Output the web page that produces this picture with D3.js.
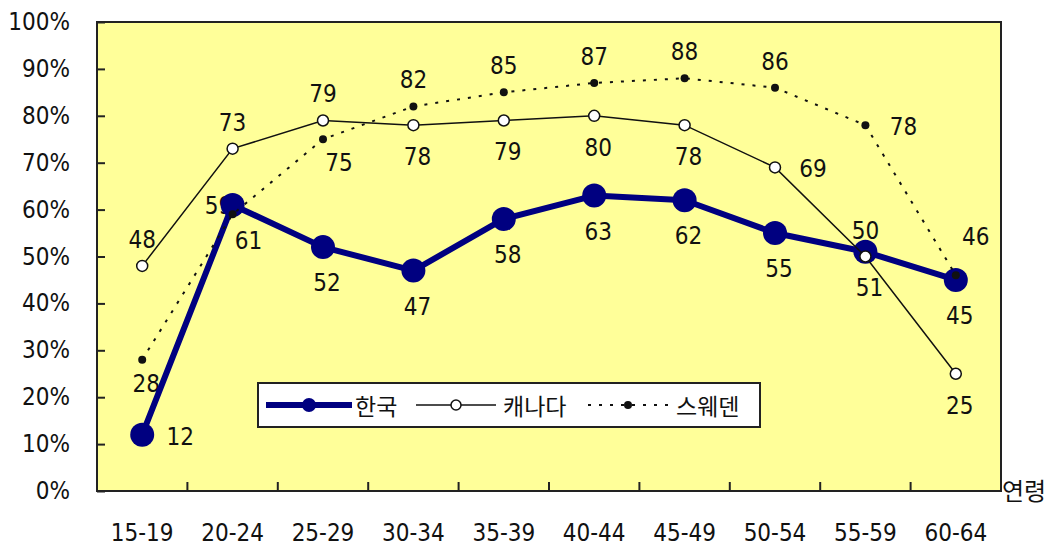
<!DOCTYPE html>
<html>
<head>
<meta charset="utf-8">
<script src="https://cdn.jsdelivr.net/npm/d3@7"></script>
<style>
  body { margin: 0; background: #fff; }
  text { font-family: "Liberation Sans Narrow", "DejaVu Sans Condensed", "Noto Sans CJK KR", sans-serif; fill: #111; }
  text.kr { font-family: "Noto Sans CJK KR", sans-serif; }
</style>
</head>
<body>
<div id="chart"></div>
<script>
const ageGroups = ['15-19', '20-24', '25-29', '30-34', '35-39', '40-44', '45-49', '50-54', '55-59', '60-64'];
const korea  = [12, 61, 52, 47, 58, 63, 62, 55, 51, 45];
const canada = [48, 73, 79, 78, 79, 80, 78, 69, 50, 25];
const sweden = [28, 59, 75, 82, 85, 87, 88, 86, 78, 46];
const yTicks = [0, 10, 20, 30, 40, 50, 60, 70, 80, 90, 100];
const seriesNames = ['한국', '캐나다', '스웨덴'];

// where each value label sits relative to its point
const koreaLabelPos  = ['right', 'belowRight', 'below', 'below', 'below', 'below', 'below', 'below', 'below', 'below'];
const canadaLabelPos = ['above', 'above', 'above', 'below', 'below', 'below', 'below', 'right', 'above', 'below'];
const swedenLabelPos = ['below', 'left', 'belowRight', 'above', 'above', 'above', 'above', 'above', 'right', 'aboveRight'];

const width = 1057, height = 546;
const plot = { left: 97, right: 1001, top: 22, bottom: 491 };
const fontSize = '24px';

const svg = d3.select('#chart').append('svg')
  .attr('width', width)
  .attr('height', height);

const x = d3.scaleBand().domain(ageGroups).range([plot.left, plot.right]);
const y = d3.scaleLinear().domain([0, 100]).range([plot.bottom, plot.top]);
const cx = (d) => x(d) + x.bandwidth() / 2;

// plot background
svg.append('rect')
  .attr('x', plot.left).attr('y', plot.top)
  .attr('width', plot.right - plot.left).attr('height', plot.bottom - plot.top)
  .attr('fill', '#ffff99')
  .attr('stroke', '#222')
  .attr('stroke-width', 2);

// y axis ticks (inward) and labels
const yAxis = svg.append('g').attr('transform', `translate(${plot.left},0)`)
  .call(d3.axisRight(y).tickValues(yTicks).tickSize(8).tickFormat(''));
yAxis.select('.domain').remove();
yAxis.selectAll('line').attr('stroke', '#222').attr('stroke-width', 2);

svg.append('g').selectAll('text')
  .data(yTicks)
  .join('text')
  .attr('x', 70)
  .attr('y', (d) => y(d))
  .attr('text-anchor', 'end')
  .attr('dominant-baseline', 'central')
  .style('font-size', fontSize)
  .text((d) => d + '%');

// x axis ticks at category boundaries, pointing up
const bounds = ageGroups.slice(1).map((d) => x(d));
svg.append('g').selectAll('line')
  .data(bounds)
  .join('line')
  .attr('x1', (d) => d).attr('x2', (d) => d)
  .attr('y1', plot.bottom).attr('y2', plot.bottom - 9)
  .attr('stroke', '#222').attr('stroke-width', 2);

svg.append('g').selectAll('text')
  .data(ageGroups)
  .join('text')
  .attr('x', (d) => cx(d))
  .attr('y', 541)
  .attr('text-anchor', 'middle')
  .style('font-size', fontSize)
  .text((d) => d);

svg.append('text')
  .attr('class', 'kr')
  .attr('x', 1002).attr('y', 489)
  .attr('dominant-baseline', 'central')
  .style('font-size', '24px')
  .text('연령');

const offsets = {
  above: [0, -26], below: [4, 36], right: [38, 2], left: [-14, -8],
  belowRight: [16, 36], aboveRight: [20, -38]
};

function drawLabels(values, positions, extraBelow) {
  svg.append('g').selectAll('text')
    .data(values)
    .join('text')
    .attr('x', (d, i) => cx(ageGroups[i]) + offsets[positions[i]][0])
    .attr('y', (d, i) => y(d) + offsets[positions[i]][1] + (positions[i].startsWith('below') ? extraBelow : 0))
    .attr('text-anchor', 'middle')
    .attr('dominant-baseline', 'central')
    .style('font-size', fontSize)
    .text((d) => d);
}

const line = d3.line().x((d, i) => cx(ageGroups[i])).y((d) => y(d));

// Sweden labels first so Korea markers sit over them
drawLabels(sweden, swedenLabelPos, -12);

// Korea
svg.append('path').datum(korea)
  .attr('d', line)
  .attr('fill', 'none')
  .attr('stroke', '#000080')
  .attr('stroke-width', 6)
  .attr('stroke-linejoin', 'round');
svg.append('g').selectAll('circle')
  .data(korea)
  .join('circle')
  .attr('cx', (d, i) => cx(ageGroups[i]))
  .attr('cy', (d) => y(d))
  .attr('r', 12)
  .attr('fill', '#000080');

// Canada
svg.append('path').datum(canada)
  .attr('d', line)
  .attr('fill', 'none')
  .attr('stroke', '#111')
  .attr('stroke-width', 1.5);
svg.append('g').selectAll('circle')
  .data(canada)
  .join('circle')
  .attr('cx', (d, i) => cx(ageGroups[i]))
  .attr('cy', (d) => y(d))
  .attr('r', 5.5)
  .attr('fill', '#fff')
  .attr('stroke', '#111')
  .attr('stroke-width', 1.5);

// Sweden
svg.append('path').datum(sweden)
  .attr('d', line)
  .attr('fill', 'none')
  .attr('stroke', '#111')
  .attr('stroke-width', 2)
  .attr('stroke-dasharray', '3,8');
svg.append('g').selectAll('circle')
  .data(sweden)
  .join('circle')
  .attr('cx', (d, i) => cx(ageGroups[i]))
  .attr('cy', (d) => y(d))
  .attr('r', 4)
  .attr('fill', '#111');

drawLabels(korea, koreaLabelPos, 0);
drawLabels(canada, canadaLabelPos, -4);

// legend
const legend = svg.append('g');
legend.append('rect')
  .attr('x', 258).attr('y', 383)
  .attr('width', 502).attr('height', 44)
  .attr('fill', '#fff')
  .attr('stroke', '#222')
  .attr('stroke-width', 2);

const legendY = 405;
const legendItems = [
  { x1: 266, x2: 352, tx: 355, stroke: '#000080', w: 6, dash: null, r: 7, fill: '#000080', mStroke: 'none' },
  { x1: 416, x2: 496, tx: 503, stroke: '#111', w: 1.5, dash: null, r: 5, fill: '#fff', mStroke: '#111' },
  { x1: 588, x2: 668, tx: 676, stroke: '#111', w: 2, dash: '3,8', r: 4, fill: '#111', mStroke: 'none' }
];
legendItems.forEach((it, i) => {
  legend.append('line')
    .attr('x1', it.x1).attr('x2', it.x2)
    .attr('y1', legendY).attr('y2', legendY)
    .attr('stroke', it.stroke).attr('stroke-width', it.w)
    .attr('stroke-dasharray', it.dash);
  legend.append('circle')
    .attr('cx', (it.x1 + it.x2) / 2).attr('cy', legendY)
    .attr('r', it.r)
    .attr('fill', it.fill)
    .attr('stroke', it.mStroke).attr('stroke-width', 1.5);
  legend.append('text')
    .attr('class', 'kr')
    .attr('x', it.tx).attr('y', legendY)
    .attr('dominant-baseline', 'central')
    .style('font-size', '23px')
    .text(seriesNames[i]);
});
</script>
</body>
</html>
